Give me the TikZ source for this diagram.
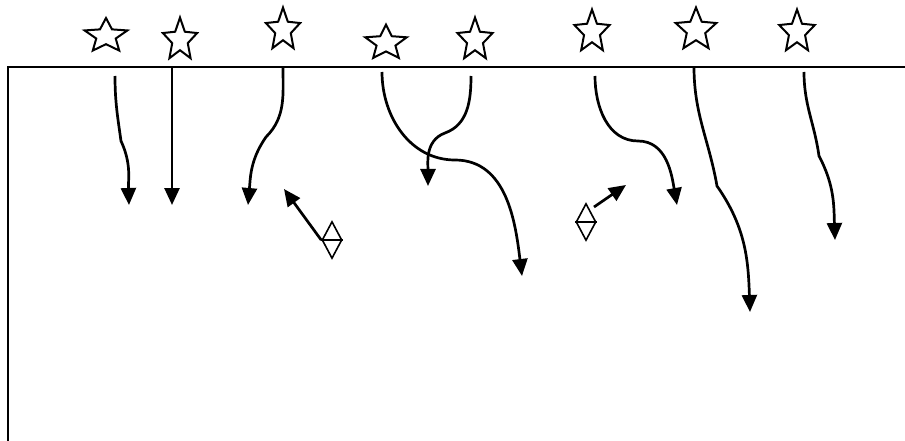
\documentclass[tikz,border=0pt]{standalone}
\usepackage{amsmath}
\usepackage{tikz}
\usetikzlibrary{positioning, arrows.meta, shapes.geometric}

\begin{document}
\begin{tikzpicture}[x=1pt,y=1pt,->,>={Triangle[length=17pt,width=15pt]},line width=2.7pt]
\tikzstyle{starmark}=[star,star points=5,star point ratio=2.2,draw=black,fill=white,line width=2pt,minimum size=45pt,inner sep=0pt,transform shape,-]
\tikzstyle{split}=[diamond,draw=black,line width=1.6pt,minimum width=20pt,minimum height=37pt,inner sep=0pt,-]
\useasboundingbox (0,0) rectangle (905,-441);
\draw[-,line width=2pt] (8,-441) -- (8,-67) -- (905,-67);

\node[starmark,xscale=1.0,yscale=0.8] (S1) at (106,-36) {};
\node[starmark,xscale=0.8] (S2) at (180,-40) {};
\node[starmark,xscale=0.8] (S3) at (283,-30) {};
\node[starmark,xscale=0.97,yscale=0.82] (S4) at (386,-43) {};
\node[starmark,xscale=0.82] (S5) at (475,-40) {};
\node[starmark,xscale=0.82] (S6) at (592,-32) {};
\node[starmark,xscale=0.95] (S7) at (696,-30) {};
\node[starmark,xscale=0.83] (S8) at (797,-32) {};

\node[split] (D1) at (332,-240) {};
\node[split] (D2) at (586,-222) {};
\draw[-,line width=1.6pt] (D1.west) -- (D1.east);
\draw[-,line width=1.6pt] (D2.west) -- (D2.east);

\coordinate (P1) at (115,-76);  \coordinate (Q1) at (121,-141); \coordinate (R1) at (129,-205);
\coordinate (P2) at (172,-67);  \coordinate (R2) at (172,-205);
\coordinate (P3) at (283,-67);  \coordinate (Q3) at (266,-137); \coordinate (R3) at (248,-205);
\coordinate (P4) at (382,-72);  \coordinate (Q4) at (455,-160); \coordinate (R4) at (522,-276);
\coordinate (P5) at (471,-76);  \coordinate (Q5) at (445,-133); \coordinate (R5) at (428,-186);
\coordinate (P6) at (595,-76);  \coordinate (Q6) at (638,-141); \coordinate (R6) at (677,-205);
\coordinate (P7) at (694,-67);  \coordinate (Q7) at (717,-186); \coordinate (R7) at (750,-312);
\coordinate (P8) at (804,-72);  \coordinate (Q8) at (819,-156); \coordinate (R8) at (835,-240);
\coordinate (R9) at (284,-189);
\coordinate (P10) at (594,-207); \coordinate (R10) at (626,-185);

\draw (P1) to[out=-90,in=98] (Q1) to[out=-65,in=92] (R1);
\draw (P2) -- (R2);
\draw (P3) to[out=-90,in=45] (Q3) to[out=-125,in=85] (R3);
\draw (P4) to[out=-90,in=180] (Q4) to[out=0,in=97] (R4);
\draw (P5) to[out=-90,in=20] (Q5) to[out=200,in=90] (R5);
\draw (P6) to[out=-90,in=180] (Q6) to[out=0,in=100] (R6);
\draw (P7) to[out=-90,in=100] (Q7) to[out=-55,in=92] (R7);
\draw (P8) to[out=-90,in=98] (Q8) to[out=-62,in=92] (R8);
\draw (D1.west) -- (R9);
\draw (P10) -- (R10);
\end{tikzpicture}
\end{document}
